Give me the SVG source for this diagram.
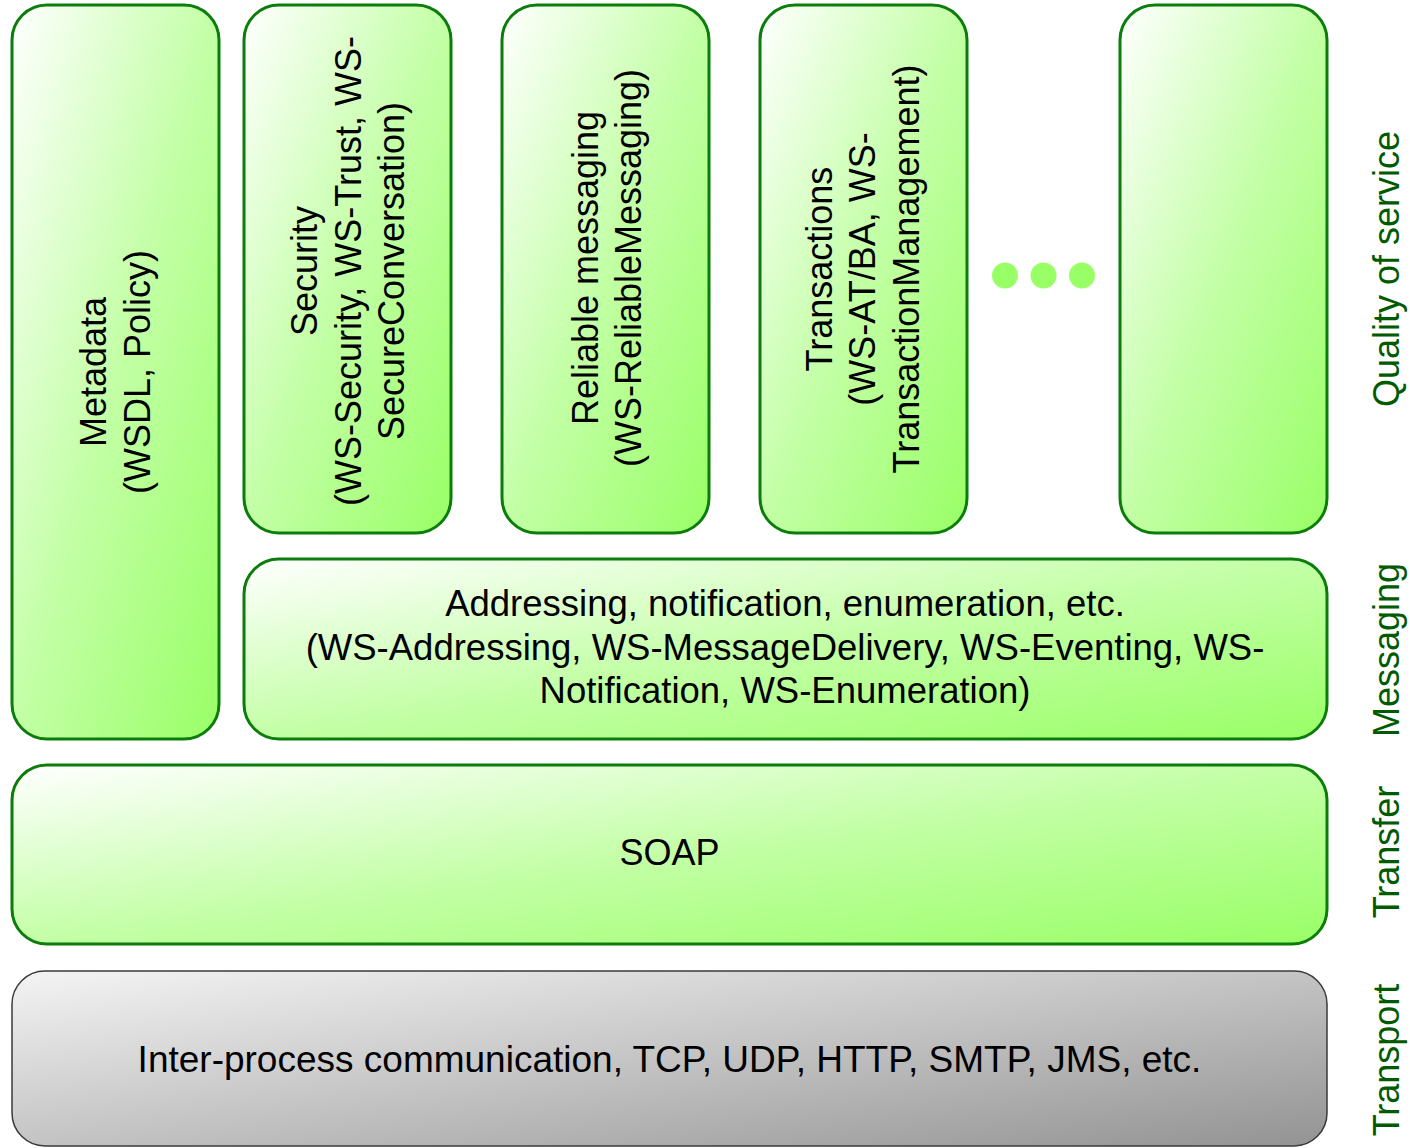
<svg xmlns="http://www.w3.org/2000/svg" width="1410" height="1148" viewBox="0 0 1410 1148">
<defs>
<linearGradient id="gGreen" x1="0" y1="0" x2="1" y2="1">
<stop offset="0" stop-color="#ffffff"/>
<stop offset="0.5" stop-color="#c3ffa6"/>
<stop offset="1" stop-color="#99ff66"/>
</linearGradient>
<linearGradient id="gGray" x1="0" y1="0" x2="1" y2="1">
<stop offset="0" stop-color="#f4f4f4"/>
<stop offset="1" stop-color="#939393"/>
</linearGradient>
<style>
.box{fill:url(#gGreen);stroke:#0b7d0b;stroke-width:3}
.gray{fill:url(#gGray);stroke:#3a3a3a;stroke-width:1.5}
.t{font-family:"Liberation Sans",Arial,sans-serif;font-size:36px;fill:#000;text-anchor:middle}
.side{font-family:"Liberation Sans",Arial,sans-serif;font-size:36px;fill:#005a00;text-anchor:middle}
.dot{fill:#99ff66}
</style>
</defs>
<rect width="1410" height="1148" fill="#ffffff"/>

<g id="metadata">
<rect class="box" x="12" y="5" width="207" height="734" rx="35" ry="35"/>
<text class="t" transform="translate(115,372) rotate(-90)"><tspan x="0" y="-9">Metadata</tspan><tspan x="0" y="35">(WSDL, Policy)</tspan></text>
</g>

<g id="security">
<rect class="box" x="244" y="5" width="207" height="528" rx="35" ry="35"/>
<text class="t" transform="translate(347.5,271) rotate(-90)"><tspan x="0" y="-30.5">Security</tspan><tspan x="0" y="13">(WS-Security, WS-Trust, WS-</tspan><tspan x="0" y="56.5">SecureConversation)</tspan></text>
</g>

<g id="reliable">
<rect class="box" x="502" y="5" width="207" height="528" rx="35" ry="35"/>
<text class="t" transform="translate(605.5,268) rotate(-90)"><tspan x="0" y="-8">Reliable messaging</tspan><tspan x="0" y="35">(WS-ReliableMessaging)</tspan></text>
</g>

<g id="transactions">
<rect class="box" x="760" y="5" width="207" height="528" rx="35" ry="35"/>
<text class="t" transform="translate(863.5,269) rotate(-90)"><tspan x="0" y="-32">Transactions</tspan><tspan x="0" y="11.5">(WS-AT/BA, WS-</tspan><tspan x="0" y="55">TransactionManagement)</tspan></text>
</g>

<g id="dots">
<circle class="dot" cx="1005" cy="275.5" r="13"/>
<circle class="dot" cx="1043.5" cy="275.5" r="13"/>
<circle class="dot" cx="1082" cy="275.5" r="13"/>
</g>

<g id="other">
<rect class="box" x="1120" y="5" width="207" height="528" rx="35" ry="35"/>
</g>

<g id="messaging">
<rect class="box" x="244" y="559" width="1083" height="180" rx="35" ry="35"/>
<text class="t" style="font-size:36.5px"><tspan x="785" y="616">Addressing, notification, enumeration, etc.</tspan><tspan x="785" y="659.5">(WS-Addressing, WS-MessageDelivery, WS-Eventing, WS-</tspan><tspan x="785" y="703">Notification, WS-Enumeration)</tspan></text>
</g>

<g id="soap">
<rect class="box" x="12" y="765" width="1315" height="179" rx="35" ry="35"/>
<text class="t" x="669.5" y="865">SOAP</text>
</g>

<g id="transport">
<rect class="gray" x="12" y="971" width="1315" height="175" rx="33" ry="33"/>
<text class="t" style="font-size:37px" x="669.5" y="1072">Inter-process communication, TCP, UDP, HTTP, SMTP, JMS, etc.</text>
</g>

<g id="layers">
<text class="side" transform="translate(1399,269) rotate(-90)">Quality of service</text>
<text class="side" transform="translate(1399,650) rotate(-90)">Messaging</text>
<text class="side" transform="translate(1399,852) rotate(-90)">Transfer</text>
<text class="side" transform="translate(1399,1060) rotate(-90)">Transport</text>
</g>

<g id="connectors"></g>
</svg>
